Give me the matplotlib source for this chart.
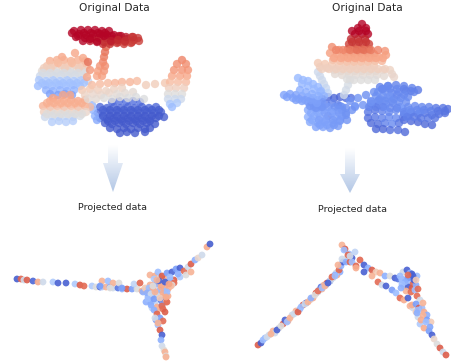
import numpy as np
import matplotlib
matplotlib.use("Agg")
import matplotlib.pyplot as plt
from matplotlib.patches import Polygon

# all positions, in its own pixel units
red_x = [74,81,88,95,102,109, 72,79,86,93,100,107,114,121, 78,85,92,99,106,113,120,127,134, 90,97,104,111,118,125,132,139, 103,110,117,124,131, 84,91,98,105,112,119,126,133,138,76,83,90,97,104,111,118,125,132]
red_y = [31,30,30,30,31,31, 33,34,35,34,34,35,35,36, 36,38,38,38,38,39,39,39,40, 41,41,42,42,42,42,42,41, 44,44,43,44,43, 33,33,33,33,36,36,37,37,38,37,41,39,42,36,41,40,41,37]
red_v = [.98,.98,.98,.97,.97,.97, .97,.97,.96,.96,.96,.96,.95,.95, .96,.96,.95,.95,.94,.94,.93,.92,.92, .93,.93,.92,.92,.91,.91,.9,.89, .91,.9,.9,.89,.89, .97,.96,.96,.95,.95,.94,.93,.92,.9,.97,.96,.96,.95,.95,.93,.92,.91,.9]

arch_x = [106,105,104,103,100,105,98,104,97,102,88,90,87, 182,177,186,174,182,188,172,180,187,170,178,186,169,176,184,168,175,182,168,175,181,170,177,172]
arch_y = [47,52,57,62,66,66,71,71,76,76,62,70,77, 60,64,64,70,70,70,76,76,76,82,82,82,88,88,88,94,94,94,99,99,99,104,103,107]
arch_v = [.82,.8,.78,.76,.72,.74,.7,.72,.68,.7,.8,.72,.68, .76,.74,.74,.72,.72,.72,.68,.68,.68,.62,.62,.62,.55,.55,.55,.48,.48,.48,.42,.42,.42,.32,.34,.28]

upper_x = [75,62,83, 50,57,64,71,78,85, 47,54,61,68,75,82,87, 42,49,56,63,70,77,84, 40,47,54,61,68,75,82, 39,46,53,60,67,74,81,88, 38,45,52,59,66,73,80, 46,53,60,67,74, 50,58,65,72, 44,51,58,65,72,79,43,50,57,64,71,78,85,42,49,56,63,70,77,84]
upper_y = [53,57,58, 61,60,60,61,60,61, 66,65,65,66,65,66,65, 71,70,71,70,71,70,71, 76,75,76,75,76,75,76, 80,81,80,81,80,81,80,81, 86,85,86,85,86,85,86, 90,91,90,91,90, 94,95,94,95, 68,68,63,68,63,68,73,73,73,73,73,73,73,83,83,83,83,83,83,83]
upper_v = [.68,.68,.68, .66,.66,.66,.66,.66,.66, .6,.6,.6,.6,.6,.6,.6, .5,.5,.5,.5,.5,.5,.52, .42,.42,.42,.42,.42,.42,.45, .33,.33,.33,.33,.33,.33,.33,.4, .28,.28,.28,.28,.28,.28,.3, .25,.25,.25,.25,.25, .2,.2,.2,.2, .56,.56,.62,.56,.62,.56,.46,.46,.46,.46,.46,.46,.46,.3,.3,.3,.3,.3,.3,.3]

lower_x = [63,53,70, 50,57,64,71,78,85, 43,50,57,64,71,78,85,90, 44,51,58,65,72,79,86, 45,52,59,66,73,80, 52,59,66,73, 47,54,61,68,75,82,47,54,61,68,75,82]
lower_y = [95,98,95, 101,100,101,100,101,100, 106,107,106,107,106,107,106,107, 112,111,112,111,112,111,112, 117,116,117,116,117,116, 122,121,122,121, 103,103,103,103,103,103,114,114,114,114,114,114]
lower_v = [.68,.68,.68, .68,.68,.68,.68,.68,.68, .65,.65,.65,.65,.65,.65,.65,.62, .55,.55,.55,.55,.55,.55,.52, .42,.42,.42,.42,.42,.45, .35,.35,.35,.35, .66,.66,.66,.66,.66,.66,.48,.48,.48,.48,.48,.48]

blue_x = [112,119,126,133,140, 100,107,114,121,128,135,142,149,156, 98,105,112,119,126,133,140,147,154,161, 100,107,114,121,128,135,142,149,156,164, 105,112,119,126,133,140,147,155, 110,117,124,131,138,145,150, 120,127,135,145, 93,95,92,97, 103,110,117,124,131,138,145,152,159,103,110,117,124,131,138,145,152,159,108,115,122,129,136,143,150]
blue_y = [102,101,102,101,102, 107,108,107,108,107,108,107,108,107, 113,112,113,112,113,112,113,112,113,112, 118,119,118,119,118,119,118,119,118,117, 123,124,123,124,123,124,123,124, 128,129,128,129,128,129,128, 133,132,133,132, 110,116,105,120, 110,110,110,110,110,110,110,110,110,116,116,116,116,116,116,116,116,116,121,121,121,121,121,121,121]
blue_v = [.08,.08,.08,.08,.08, .07,.06,.06,.06,.06,.06,.06,.06,.06, .06,.05,.05,.05,.05,.05,.05,.05,.05,.05, .05,.04,.04,.04,.04,.04,.04,.04,.04,.04, .04,.03,.03,.03,.03,.03,.03,.03, .03,.03,.03,.03,.03,.03,.03, .03,.03,.03,.03, .25,.25,.27,.22, .05,.04,.04,.04,.04,.04,.04,.04,.04, .04,.03,.03,.03,.03,.03,.03,.03,.03, .03,.03,.03,.03,.03,.03,.03]

mid_x = [92,100,108,115,122,130,137,146,155,165, 82,90,98,106,114,122,85,93,101,109,117,125,133,88,96,104,112,120,128,136,144]
mid_y = [85,84,83,83,82,82,81,85,84,83, 90,89,90,91,89,88,95,94,95,93,94,93,92,99,99,98,99,97,98,97,99]
mid_v = [.62,.62,.62,.64,.64,.64,.62,.56,.56,.58, .58,.58,.56,.54,.54,.54,.54,.52,.52,.52,.5,.5,.5,.5,.5,.48,.48,.48,.47,.47,.47]

leaf_x = [362,358,366,355,362,368,351,358,365,349,356,363,369,348,355,362,369, 332,339,346,353,360,367,374,385, 330,337,344,351,358,365,372,379,386, 333,340,347,354,361,368,375,382, 318,325,332,339,346,353,360,367,374, 320,327,334,341,348,355,362,369,376,383,390, 335,342,349,356,363,370,377,384,394, 347,354,361,368,375, 352,359,366,352,359,366,336,343,350,357,364,371,378,334,341,348,355,362,369,376,383,322,329,336,343,350,357,364,371,378,385,392]
leaf_y = [24,28,28,34,34,34,39,39,39,44,44,44,44,49,49,49,49, 47,50,52,53,53,53,54,51, 53,54,57,57,57,57,58,57,55, 60,61,62,62,62,62,61,61, 63,64,65,66,66,66,66,66,66, 67,68,70,71,71,71,71,71,71,70,70, 74,75,75,75,75,75,75,76,77, 79,80,80,80,80, 31,31,31,42,42,42,50,50,50,50,50,50,50,58,58,58,58,58,58,58,58,69,69,69,69,69,69,69,69,69,69,74]
leaf_v = [.99,.98,.98,.95,.95,.95,.92,.92,.92,.88,.88,.88,.88,.84,.84,.84,.84, .74,.74,.74,.76,.78,.78,.74,.72, .7,.7,.7,.7,.7,.7,.7,.7,.7, .64,.64,.64,.64,.64,.64,.64,.64, .58,.58,.58,.58,.58,.58,.58,.58,.58, .56,.55,.54,.54,.54,.54,.54,.54,.54,.54,.54, .5,.5,.5,.5,.5,.5,.5,.5,.52, .48,.48,.48,.48,.48, .96,.96,.96,.9,.9,.9,.76,.76,.78,.8,.8,.78,.76,.68,.68,.68,.68,.68,.68,.68,.68,.55,.55,.55,.55,.55,.55,.55,.55,.55,.55,.52]

wing_x = [350,348,346,344, 318,320,322,324,326,328, 298,303,308,313,318,321,302,308,314,320,324, 284,290,296,302,308,313,318,322, 296,302,308,314,320, 310,316,322, 287,293,299,305,311,317,300,306,312,318]
wing_y = [80,85,90,95, 72,76,80,84,88,93, 78,80,81,84,87,91,84,86,89,92,96, 95,94,95,96,97,98,100,102, 100,101,102,103,105, 106,108,107, 97,98,99,100,100,103,90,92,94,96]
wing_v = [.45,.45,.44,.43, .42,.42,.42,.42,.4,.38, .27,.27,.27,.27,.27,.27,.27,.27,.27,.26,.25, .2,.2,.2,.2,.2,.2,.2,.18, .19,.19,.19,.19,.18, .17,.17,.17, .2,.2,.2,.2,.2,.2,.24,.24,.24,.24]

loop_x = [322,328,334,340,346,351, 312,318,326,332,338, 308,316,323,331,338,342, 308,314,320,328,335,342,346, 310,318,325,333,340, 316,323,330,338, 350,358,366,374,382,388,355,363,371,379,346,352, 314,321,328,335,342,311,318,325,332,339,346,312,319,326,333,340,347,320,327,334]
loop_y = [99,97,98,97,98,98, 103,104,104,103,105, 110,110,110,111,110,110, 117,116,117,116,117,116,115, 122,123,122,123,121, 127,127,128,126, 101,98,95,92,89,86,106,105,102,100,108,110, 107,107,107,107,107,113,113,113,113,113,113,120,120,120,120,120,120,125,125,125]
loop_v = [.08,.06,.06,.06,.07,.08, .12,.1,.12,.12,.12, .22,.2,.2,.2,.18,.16, .24,.22,.2,.12,.2,.18,.16, .22,.22,.2,.2,.18, .2,.2,.18,.18, .16,.16,.15,.15,.14,.14,.17,.16,.16,.15,.15,.16, .18,.18,.18,.16,.16,.22,.22,.2,.2,.18,.16,.22,.2,.2,.18,.18,.16,.2,.2,.18]

right_x = [380,388,396,404,412,418, 378,385,392,399,406,414, 380,387,394,401,408, 372,379,386,393, 368,375,382,389,396,403, 368,375,382,389,396,403,408, 371,378,385,392,399, 376,383,390,398,405, 408,415,422,429,436,443,448, 404,411,418,425,432,439,445, 404,411,418,425,432,340,355,370,385,400,420, 383,390,397,404,411,376,383,390,397,404,371,378,385,392,399,406,369,376,383,390,397,404,411,410,417,424,431,438,445,407,414,421,428,435]
right_y = [87,86,85,86,88,90, 92,91,93,92,91,92, 99,98,99,98,97, 104,105,104,103, 112,110,111,112,110,109, 118,117,118,117,118,117,116, 123,124,123,124,123, 129,129,130,130,132, 107,106,107,107,108,108,109, 114,113,114,113,115,114,113, 120,121,122,124,125,106,107,106,107,107,112, 89,89,89,89,91,96,96,96,95,95,101,101,101,101,102,102,107,107,107,108,108,112,112,110,110,110,111,111,111,117,117,118,118,118]
right_v = [.12,.12,.12,.12,.12,.1, .16,.16,.14,.14,.12,.12, .16,.16,.14,.14,.14, .14,.14,.14,.14, .1,.1,.12,.14,.14,.14, .08,.1,.12,.14,.14,.12,.1, .07,.08,.12,.14,.1, .06,.06,.08,.08,.06, .15,.14,.13,.12,.1,.09,.08, .12,.12,.11,.1,.1,.09,.08, .08,.07,.06,.06,.06,.2,.2,.2,.2,.2,.15, .14,.14,.14,.12,.12,.16,.16,.16,.14,.14,.15,.15,.15,.15,.15,.15,.12,.12,.13,.14,.14,.14,.12,.15,.14,.13,.12,.1,.09,.12,.11,.1,.1,.09]

blend_left_x = [17,21,24,27,33,38,43,53,58,66,75,80,84,92,96,100,102,106,110,113,118,122,127,132,137,142,102,108,113,119,100,110,122,134,140,146,150]
blend_left_y = [279,279,280,280,281,282,282,282,283,283,284,285,286,286,287,287,287,287,287,288,288,289,289,289,289,291,281,281,283,283,286,288,288,284,283,289,290]
blend_left_v = [.04,.86,.45,.88,.06,.7,.45,.35,.05,.05,.35,.88,.85,.35,.5,.05,.35,.68,.2,.45,.1,.3,.88,.2,.5,.7,.68,.3,.68,.5,.2,.5,.2,.4,.86,.5,.7]

blend_centre_x = [143,147,150,152,155,157,160,162,165,168,171,174,148,153,158,163,168,146,151,156,161,166,172,150,155,160,165,170,174,154,158,162,167,172,152,157,162,167, 145,149,153,157,161,165,169,147,151,155,159,163,167,171,153,157,161,165,169,148,154,160,166,151,157,163]
blend_centre_y = [292,291,285,291,283,292,290,285,287,289,283,280,297,297,296,297,296,302,303,301,300,302,282,275,276,277,279,280,283,279,272,276,273,285,308,307,305,302, 288,288,288,284,284,291,287,293,294,292,281,293,292,286,286,280,287,282,284,299,299,298,297,305,311,309]
blend_centre_v = [.25,.68,.68,.25,.7,.25,.3,.06,.68,.68,.68,.88,.3,.2,.45,.65,.7,.25,.22,.4,.1,.68,.65,.68,.7,.45,.68,.25,.85,.35,.3,.88,.2,.5,.4,.7,.2,.85, .6,.3,.7,.25,.68,.3,.7,.25,.45,.68,.06,.7,.3,.65,.5,.68,.7,.05,.72,.3,.2,.6,.7,.25,.68,.85]

blend_arm_x = [172,176,170,180,184,188,191,195,198,202,207,210,180,186,191,178,154,157,160,163,162,165,156,158,155,158,160,162,161,162,164,165,166,166]
blend_arm_y = [272,269,277,268,271,267,264,260,258,255,247,244,277,275,272,274,310,314,318,321,306,312,320,325,318,323,330,335,340,346,350,352,356,357]
blend_arm_v = [.06,.2,.3,.05,.85,.45,.88,.25,.55,.45,.7,.04,.35,.5,.68,.25,.25,.86,.2,.85,.85,.88,.2,.3,.45,.68,.88,.05,.25,.45,.5,.68,.5,.68]

blend_right_x = [258,261,265,269,273,275,279,283,285,288,292,296,300,303,306,310,313,316,319,321,324,327,330,333,337,340,336,339,341,343,347,342,345,349,352,318,322,326,330,335, 263,267,271,277,281,287,290,294,298,301,305,308,311,315,318,322,325,328,332,335,338,342,346,350]
blend_right_y = [345,343,338,335,331,333,328,324,320,321,315,311,309,305,303,300,298,293,290,287,285,283,281,278,275,272,273,270,266,262,258,245,249,254,258,292,289,285,281,275, 340,337,334,330,326,322,318,314,312,307,304,302,298,295,291,288,286,283,277,276,265,259,262,262]
blend_right_v = [.88,.04,.3,.45,.68,.45,.5,.88,.05,.7,.45,.68,.3,.88,.05,.55,.7,.88,.3,.1,.68,.88,.08,.45,.7,.25,.45,.86,.25,.05,.5,.68,.88,.3,.05,.45,.68,.3,.45,.25, .3,.45,.68,.05,.5,.3,.68,.45,.88,.3,.45,.68,.25,.5,.85,.3,.68,.05,.86,.3,.68,.45,.25,.86]

blend_peak_x = [344,348,352,356,350,355,360,364,368,372,376,380,385,390,395,398,402,405,356,364,372,378,382,386,392,396,400,404,408,410,413,416]
blend_peak_y = [250,255,262,266,256,252,260,265,268,270,272,273,276,276,278,279,279,280,268,272,276,282,285,286,290,293,298,300,298,306,308,312]
blend_peak_v = [.3,.86,.3,.86,.45,.4,.86,.05,.25,.88,.6,.68,.25,.5,.05,.1,.3,.3,.7,.05,.68,.85,.45,.05,.2,.3,.85,.7,.05,.68,.45,.6]

blend_tail_x = [403,407,410,412,414,417,410,413,404,408,412,416,406,411,415,402,408,413,417,420,412,416,419,422,424,427,418,423,427,431,420,424,429,432,434,437,440,443,446, 400,405,414,402,408,416,401,418,418,423,417,421,426,430]
blend_tail_y = [272,270,273,274,279,276,281,284,286,287,288,285,291,292,290,280,278,276,296,300,305,304,308,308,312,315,317,315,320,322,324,328,331,335,339,344,348,352,355, 276,282,280,284,275,280,288,289,310,303,313,320,322,327]
blend_tail_v = [.45,.05,.25,.05,.05,.3,.3,.85,.45,.05,.88,.25,.68,.85,.3,.3,.2,.05,.85,.45,.7,.2,.88,.3,.7,.25,.45,.68,.2,.6,.35,.7,.2,.05,.55,.5,.88,.45,.88, .3,.25,.05,.3,.85,.6,.25,.85,.3,.68,.25,.7,.3,.22]

title_labels = ["Original Data", "Original Data"]
title_x = [114.5, 367]
title_y = [8, 8]
sub_labels = ["Projected data", "Projected data"]
sub_x = [113, 352]
sub_y = [207, 210]

# arrows: shaft left, shaft right, head left, head right, top, neck, tip
arrow_shaft_l = [108, 345]
arrow_shaft_r = [118, 355]
arrow_head_l = [103, 340]
arrow_head_r = [123, 360]
arrow_top = [145, 148]
arrow_neck = [163, 174]
arrow_tip = [192, 193]

clouds = [
    (blue_x, blue_y, blue_v), (upper_x, upper_y, upper_v), (lower_x, lower_y, lower_v),
    (mid_x, mid_y, mid_v), (arch_x, arch_y, arch_v), (red_x, red_y, red_v),
    (right_x, right_y, right_v), (loop_x, loop_y, loop_v), (wing_x, wing_y, wing_v),
    (leaf_x, leaf_y, leaf_v),
]
blends = [
    (blend_left_x, blend_left_y, blend_left_v), (blend_centre_x, blend_centre_y, blend_centre_v),
    (blend_arm_x, blend_arm_y, blend_arm_v), (blend_right_x, blend_right_y, blend_right_v),
    (blend_peak_x, blend_peak_y, blend_peak_v), (blend_tail_x, blend_tail_y, blend_tail_v),
]

fig = plt.figure(figsize=(4.51, 3.64), dpi=100)
ax = fig.add_axes([0, 0, 1, 1])
ax.set_xlim(0, 451)
ax.set_ylim(364, 0)
ax.axis("off")

for xs, ys, vs in clouds:
    ax.scatter(xs, ys, c=vs, s=36, cmap="coolwarm", vmin=0, vmax=0.95, alpha=0.8, linewidths=0)

for xs, ys, vs in blends:
    ax.scatter(xs, ys, c=vs, s=24, cmap="coolwarm", vmin=0, vmax=1, alpha=0.9, linewidths=0)

for x, y, s in zip(title_x, title_y, title_labels):
    ax.text(x, y, s, ha="center", va="center", fontsize=7.7, color="#262626")
for x, y, s in zip(sub_x, sub_y, sub_labels):
    ax.text(x, y, s, ha="center", va="center", fontsize=6.8, color="#262626")

# gradient arrows
grad = np.linspace(0, 1, 64).reshape(-1, 1)
light = np.array([1.0, 1.0, 1.0])
dark = np.array([0.70, 0.78, 0.90])
rgb = (light + (dark - light) * grad[..., None]).reshape(64, 1, 3)
for i in range(2):
    pts = [(arrow_shaft_l[i], arrow_top[i]), (arrow_shaft_r[i], arrow_top[i]),
           (arrow_shaft_r[i], arrow_neck[i]), (arrow_head_r[i], arrow_neck[i]),
           ((arrow_head_l[i] + arrow_head_r[i]) / 2, arrow_tip[i]),
           (arrow_head_l[i], arrow_neck[i]), (arrow_shaft_l[i], arrow_neck[i])]
    im = ax.imshow(rgb, extent=(arrow_head_l[i], arrow_head_r[i], arrow_tip[i], arrow_top[i]),
                   aspect="auto", zorder=2)
    im.set_clip_path(Polygon(pts, closed=True, transform=ax.transData))

ax.set_xlim(0, 451)
ax.set_ylim(364, 0)
fig.savefig("out.png", dpi=100)
